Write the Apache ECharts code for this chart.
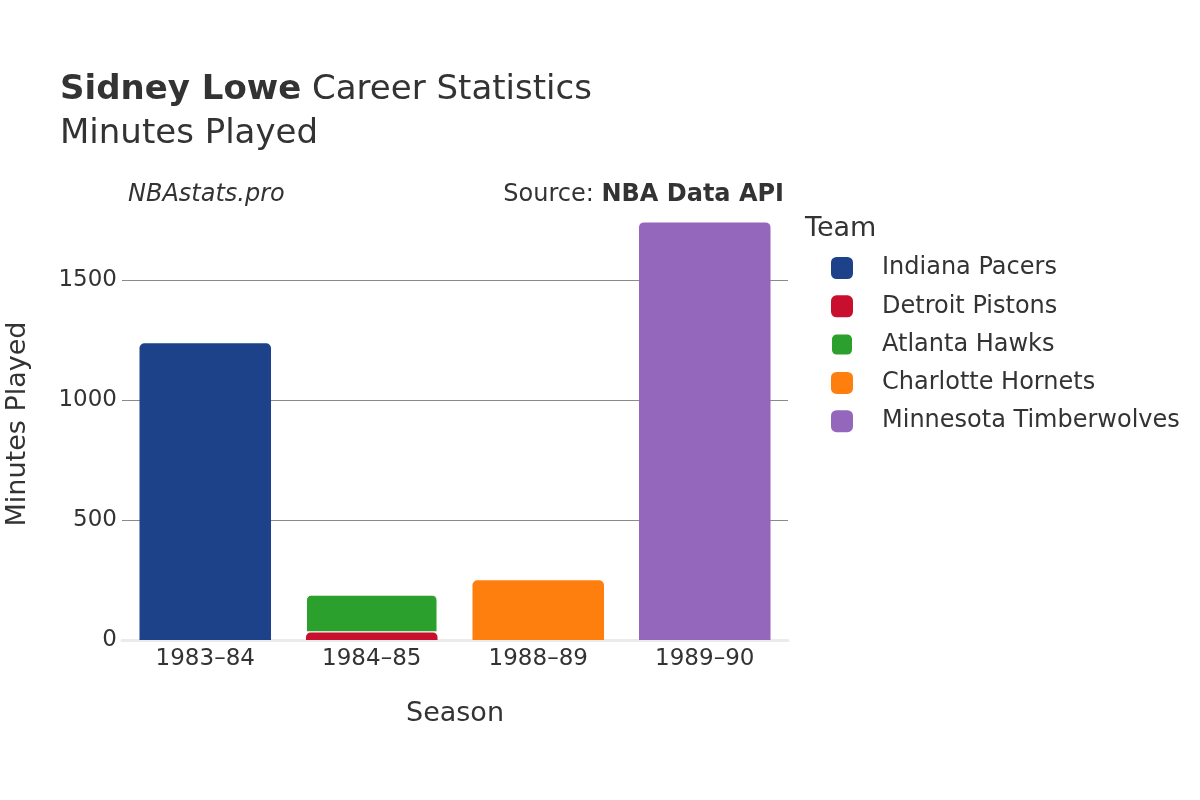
<!DOCTYPE html>
<html><head><meta charset="utf-8">
<script src="https://cdn.jsdelivr.net/npm/echarts@6/dist/echarts.min.js"></script>
<style>html,body{margin:0;padding:0;background:#fff}#c{width:1200px;height:800px}</style>
</head><body><div id="c"></div>
<script>
const seasons = ['1983–84', '1984–85', '1988–89', '1989–90'];
const teams = ['Indiana Pacers', 'Detroit Pistons', 'Atlanta Hawks', 'Charlotte Hornets', 'Minnesota Timberwolves'];
const teamColors = ['#1d428a', '#c8102e', '#2ca02c', '#ff7f0e', '#9467bd'];
const indianaPacers = [1236, null, null, null];
const detroitPistons = [null, 32, null, null];
const atlantaHawks = [null, 157, null, null];
const charlotteHornets = [null, null, 249, null];
const minnesotaTimberwolves = [null, null, null, 1740];
const teamValues = [indianaPacers, detroitPistons, atlantaHawks, charlotteHornets, minnesotaTimberwolves];

const FONT = 'DejaVu Sans';
const chart = echarts.init(document.getElementById('c'), null, {renderer: 'canvas'});
chart.setOption({
  backgroundColor: '#fff',
  textStyle: {fontFamily: FONT},
  animation: false,
  title: [
    {text: '{b|Sidney Lowe} Career Statistics\nMinutes Played', left: 55, top: 63,
     textStyle: {fontFamily: FONT, fontSize: 34, fontWeight: 'normal', color: '#333', lineHeight: 44,
       rich: {b: {fontFamily: FONT, fontSize: 34, fontWeight: 'bold', color: '#333'}}}},
    {text: 'NBAstats.pro', left: 123, top: 178,
     textStyle: {fontFamily: FONT, fontSize: 24, fontStyle: 'italic', fontWeight: 'normal', color: '#333'}},
    {text: 'Source: {b|NBA Data API}', right: 411, top: 178,
     textStyle: {fontFamily: FONT, fontSize: 24, fontWeight: 'normal', color: '#333',
       rich: {b: {fontFamily: FONT, fontSize: 24, fontWeight: 'bold', color: '#333'}}}},
    {text: 'Team', left: 800, top: 210, textStyle: {fontFamily: FONT, fontSize: 27, fontWeight: 'normal', color: '#333'}}
  ],
  legend: {
    orient: 'vertical', left: 825, top: 251, itemGap: 14.3, itemWidth: 22, itemHeight: 22,
    icon: 'roundRect',
    textStyle: {fontFamily: FONT, fontSize: 24, color: '#333', padding: [0, 0, 0, 24]},
    data: teams
  },
  grid: {left: 122, right: 412, top: 208, bottom: 160, outerBoundsMode: 'none', containLabel: false},
  xAxis: {
    type: 'category', data: seasons,
    name: 'Season', nameLocation: 'middle', nameGap: 60,
    nameTextStyle: {fontFamily: FONT, fontSize: 27, color: '#333'},
    axisLine: {show: true, lineStyle: {color: '#ebebeb', width: 3}},
    axisTick: {show: false},
    axisLabel: {fontFamily: FONT, fontSize: 23, color: '#333', margin: 8}
  },
  yAxis: {
    type: 'value', min: 0, max: 1800, interval: 500,
    name: 'Minutes Played', nameLocation: 'middle', nameGap: 91, nameRotate: 90,
    nameTextStyle: {fontFamily: FONT, fontSize: 27, color: '#333'},
    axisLine: {show: false}, axisTick: {show: false},
    axisLabel: {fontFamily: FONT, fontSize: 23, color: '#333', margin: 5,
      formatter: v => (v % 500 === 0 ? String(v) : '')},
    splitLine: {show: true, lineStyle: {color: ['rgba(0,0,0,0)', '#8a8a8a', '#8a8a8a', '#8a8a8a', 'rgba(0,0,0,0)'], width: 1}}
  },
  series: teams.map((t, i) => ({
    name: t, type: 'bar', stack: 'total', barWidth: '79%',
    itemStyle: {color: teamColors[i], borderRadius: [5, 5, 0, 0], borderColor: '#fff', borderWidth: i === 2 ? 1 : 0},
    data: teamValues[i]
  }))
});
</script></body></html>
